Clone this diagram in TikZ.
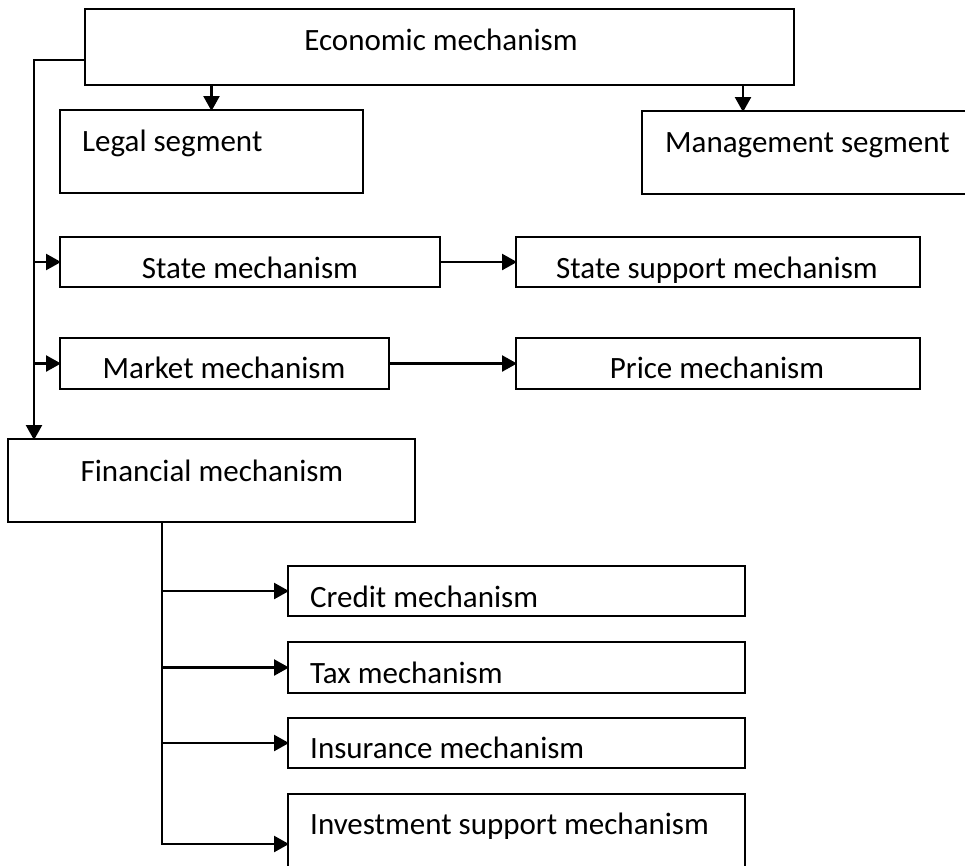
\documentclass[tikz,border=0pt]{standalone}
\usepackage{fontspec}
\setmainfont{Carlito}
\usetikzlibrary{arrows.meta}

\tikzset{
  box/.style={draw, line width=2.4pt, rectangle, anchor=north west,
              inner sep=0pt, outer sep=0pt},
  txt/.style={inner sep=0pt, font=\fontsize{31}{36}\selectfont},
  link/.style={line width=2.4pt},
  arr/.style={link, -{Triangle[length=15pt,width=16pt]}, shorten >=-1pt}
}

\begin{document}
\begin{tikzpicture}[x=1pt, y=-1pt]
\path[use as bounding box, clip] (0,0) rectangle (965,865);
\fill[white] (0,0) rectangle (965,865);

% boxes
\node[box, minimum width=709pt, minimum height=76pt] (econ)    at (85,9)   {};
\node[box, minimum width=303pt, minimum height=83pt] (legal)   at (60,110) {};
\node[box, minimum width=360pt, minimum height=83pt] (mgmt)    at (642,111) {};
\node[box, minimum width=380pt, minimum height=50pt] (state)   at (60,237) {};
\node[box, minimum width=404pt, minimum height=50pt] (support) at (516,237) {};
\node[box, minimum width=329pt, minimum height=51pt] (market)  at (60,338) {};
\node[box, minimum width=404pt, minimum height=51pt] (price)   at (516,338) {};
\node[box, minimum width=407pt, minimum height=83pt] (fin)     at (8,439)  {};
\node[box, minimum width=457pt, minimum height=50pt] (credit)  at (288,566) {};
\node[box, minimum width=457pt, minimum height=51pt] (tax)     at (288,642) {};
\node[box, minimum width=457pt, minimum height=50pt] (ins)     at (288,718) {};
\node[box, minimum width=457pt, minimum height=100pt] (inv)    at (288,794) {};

% labels
\node[txt, anchor=base]      (econT)    at (441,50)  {Economic mechanism};
\node[txt, anchor=base west] (legalT)   at (82,151)  {Legal segment};
\node[txt, anchor=base west] (mgmtT)    at (665,152) {Management segment};
\node[txt, anchor=base]      (stateT)   at (250,278) {State mechanism};
\node[txt, anchor=base]      (supportT) at (717,278) {State support mechanism};
\node[txt, anchor=base]      (marketT)  at (224,378) {Market mechanism};
\node[txt, anchor=base]      (priceT)   at (717,378) {Price mechanism};
\node[txt, anchor=base]      (finT)     at (212,481) {Financial mechanism};
\node[txt, anchor=base west] (creditT)  at (310,607) {Credit mechanism};
\node[txt, anchor=base west] (taxT)     at (310,683) {Tax mechanism};
\node[txt, anchor=base west] (insT)     at (310,758) {Insurance mechanism};
\node[txt, anchor=base west] (invT)     at (310,834) {Investment support mechanism};

% top-level branches
\draw[arr] (econ.south -| legal.north) -- (legal.north);
\draw[arr] ([xshift=303.5pt]econ.south) -- ([xshift=303.5pt]econ.south |- mgmt.north);

% left trunk
\coordinate (trunk) at (34,60);
\draw[arr] ([yshift=-13pt]econ.west) -- (trunk) -- (trunk |- fin.north);
\draw[arr] (trunk |- state.west) -- (state.west);
\draw[arr] (trunk |- market.west) -- (market.west);

\draw[arr] (state.east) -- (support.west);
\draw[arr] (market.east) -- (price.west);

% financial sub-mechanisms
\coordinate (fbr) at ([xshift=-49.5pt]fin.south);
\draw[arr] (fbr) -- (fbr |- inv.west) -- (inv.west);
\draw[arr] (fbr |- credit.west) -- (credit.west);
\draw[arr] (fbr |- tax.west) -- (tax.west);
\draw[arr] (fbr |- ins.west) -- (ins.west);
\end{tikzpicture}
\end{document}
